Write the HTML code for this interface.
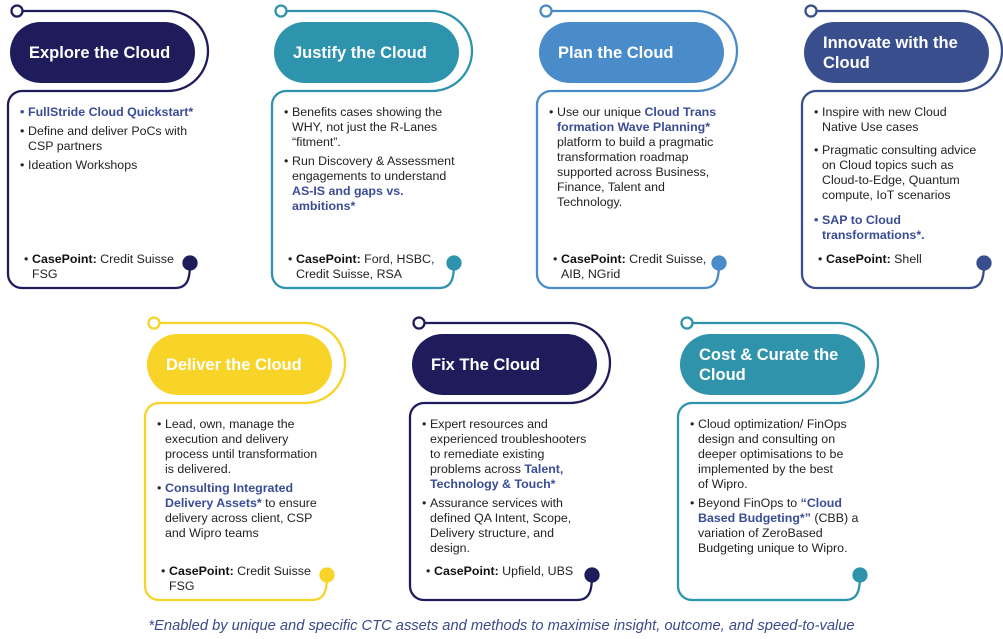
<!DOCTYPE html>
<html><head><meta charset="utf-8"><style>
body{margin:0;width:1003px;height:639px;background:#fff;position:relative;overflow:hidden;font-family:"Liberation Sans",sans-serif;}
svg{position:absolute;left:0;top:0}
.card{position:absolute;width:210px;height:300px}
.pill{position:absolute;left:10px;top:22px;width:185px;height:61px;border-radius:31px;color:#fff;font-weight:bold;font-size:16.5px;line-height:20px;box-sizing:border-box;padding-left:19px;display:flex;align-items:center}
.body{position:absolute;left:28px;top:105px;width:180px;font-size:12.4px;line-height:15px;color:#222;white-space:nowrap}
.body p{margin:0 0 4px 0;position:relative}
.body p:before,.cp:before{content:"•";position:absolute;left:-8px;color:#222}
.hl{color:#3a4c96;font-weight:bold}
.hl.b:before{color:#3a4c96}
.cp{position:absolute;left:32px;top:252px;width:150px;font-size:12.4px;line-height:15px;color:#222}
.cp b{color:#111}
.foot{position:absolute;left:0;width:1003px;top:618px;text-align:center;font-style:italic;font-size:14.7px;color:#3a4a8a}
</style></head><body>
<svg width="1003" height="639" fill="none" stroke-width="2.3">
<defs>
<g id="o">
<path d="M23,11 H168 A40,40 0 0 1 168,91 H22 A14,14 0 0 0 8,105 V274 A14,14 0 0 0 22,288 H175 C188,288 190,278 190,263"/>
<circle cx="17" cy="11" r="5.5" fill="#fff"/>
</g>
</defs>
<g stroke="#1f1c5c"><use href="#o"/><circle cx="190" cy="263" r="6.5" fill="#1f1c5c"/></g>
<g stroke="#2e93ad" transform="translate(264,0)"><use href="#o"/><circle cx="190" cy="263" r="6.5" fill="#2e93ad"/></g>
<g stroke="#4a8bc9" transform="translate(529,0)"><use href="#o"/><circle cx="190" cy="263" r="6.5" fill="#4a8bc9"/></g>
<g stroke="#394e8c" transform="translate(794,0)"><use href="#o"/><circle cx="190" cy="263" r="6.5" fill="#394e8c"/></g>
<g stroke="#f7d427" transform="translate(137,312)"><use href="#o"/><circle cx="190" cy="263" r="6.5" fill="#f7d427"/></g>
<g stroke="#1f1c5c" transform="translate(402,312)"><use href="#o"/><circle cx="190" cy="263" r="6.5" fill="#1f1c5c"/></g>
<g stroke="#2f93ab" transform="translate(670,312)"><use href="#o"/><circle cx="190" cy="263" r="6.5" fill="#2f93ab"/></g>
</svg>

<div class="card" style="left:0;top:0">
<div class="pill" style="background:#1f1c5c">Explore the Cloud</div>
<div class="body">
<p class="hl b">FullStride Cloud Quickstart*</p>
<p>Define and deliver PoCs with<br>CSP partners</p>
<p>Ideation Workshops</p>
</div>
<div class="cp"><b>CasePoint:</b> Credit Suisse FSG</div>
</div>

<div class="card" style="left:264px;top:0">
<div class="pill" style="background:#2e93ad">Justify the Cloud</div>
<div class="body">
<p>Benefits cases showing the<br>WHY, not just the R-Lanes<br>“fitment”.</p>
<p>Run Discovery &amp; Assessment<br>engagements to understand<br><span class="hl">AS-IS and gaps vs.<br>ambitions*</span></p>
</div>
<div class="cp"><b>CasePoint:</b> Ford, HSBC, Credit Suisse, RSA</div>
</div>

<div class="card" style="left:529px;top:0">
<div class="pill" style="background:#4a8bc9">Plan the Cloud</div>
<div class="body">
<p>Use our unique <span class="hl">Cloud Trans<br>formation Wave Planning*</span><br>platform to build a pragmatic<br>transformation roadmap<br>supported across Business,<br>Finance, Talent and<br>Technology.</p>
</div>
<div class="cp"><b>CasePoint:</b> Credit Suisse, AIB, NGrid</div>
</div>

<div class="card" style="left:794px;top:0">
<div class="pill" style="background:#394e8c">Innovate with the Cloud</div>
<div class="body">
<p style="margin-bottom:8px">Inspire with new Cloud<br>Native Use cases</p>
<p style="margin-bottom:10px">Pragmatic consulting advice<br>on Cloud topics such as<br>Cloud-to-Edge, Quantum<br>compute, IoT scenarios</p>
<p class="hl b">SAP to Cloud<br>transformations*.</p>
</div>
<div class="cp"><b>CasePoint:</b> Shell</div>
</div>

<div class="card" style="left:137px;top:312px">
<div class="pill" style="background:#f7d427">Deliver the Cloud</div>
<div class="body">
<p>Lead, own, manage the<br>execution and delivery<br>process until transformation<br>is delivered.</p>
<p><span class="hl">Consulting Integrated<br>Delivery Assets*</span> to ensure<br>delivery across client, CSP<br>and Wipro teams</p>
</div>
<div class="cp"><b>CasePoint:</b> Credit Suisse FSG</div>
</div>

<div class="card" style="left:402px;top:312px">
<div class="pill" style="background:#1f1c5c">Fix The Cloud</div>
<div class="body">
<p>Expert resources and<br>experienced troubleshooters<br>to remediate existing<br>problems across <span class="hl">Talent,<br>Technology &amp; Touch*</span></p>
<p>Assurance services with<br>defined QA Intent, Scope,<br>Delivery structure, and<br>design.</p>
</div>
<div class="cp"><b>CasePoint:</b> Upfield, UBS</div>
</div>

<div class="card" style="left:670px;top:312px">
<div class="pill" style="background:#2f93ab">Cost &amp; Curate the Cloud</div>
<div class="body">
<p>Cloud optimization/ FinOps<br>design and consulting on<br>deeper optimisations to be<br>implemented by the best<br>of Wipro.</p>
<p>Beyond FinOps to <span class="hl">“Cloud<br>Based Budgeting*”</span> (CBB) a<br>variation of ZeroBased<br>Budgeting unique to Wipro.</p>
</div>
</div>

<div class="foot">*Enabled by unique and specific CTC assets and methods to maximise insight, outcome, and speed-to-value</div>
</body></html>
